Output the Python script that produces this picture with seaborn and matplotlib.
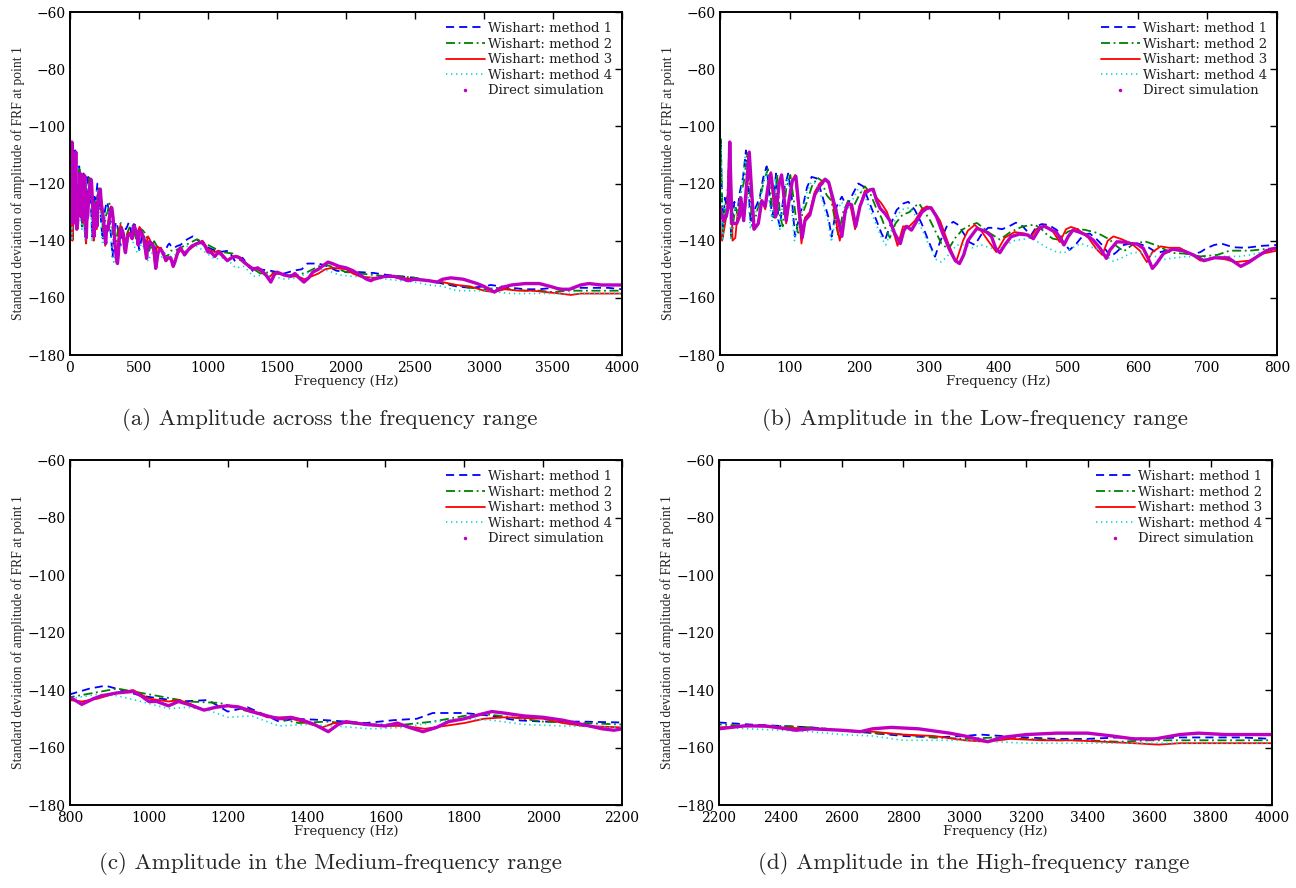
import matplotlib
matplotlib.use("Agg")
import matplotlib.pyplot as plt
import pandas as pd
import seaborn as sns
from matplotlib.lines import Line2D

# ---------------- data: (frequency in Hz, std of FRF amplitude in dB) ----------------
method1 = [(0,-135),(1,-104),(4,-138.6),(7,-125),(9.6,-128),(12,-118),(13.4,-106),(15.8,-139),(20.6,-126.4),(25,-130.5),(28,-123.5),(33,-118),(37.3,-108.4),(40.7,-121),(44,-134),(50,-129),(53.6,-127),(57.4,-124.5),(62,-118),(67,-114),(71.8,-125.8),(75.6,-131.6),(80.4,-116.5),(83.8,-132.8),(86,-135),(93,-121),(98,-116.5),(103,-124.7),(107.7,-138.6),(115,-130.5),(120,-127),(125,-121.3),(131.6,-117.7),(139,-118.2),(146,-123.5),(155.5,-131.6),(160.3,-138.6),(167.5,-128),(175,-124.6),(182,-128),(190,-124),(198.6,-120),(205.8,-121),(213,-125.8),(222.6,-131.6),(232,-137.5),(237,-139.8),(244,-135),(253.6,-129.3),(263.2,-127),(270.4,-126.4),(280,-129.3),(289.6,-134),(299,-139.8),(308.8,-145.6),(316,-140.4),(325.5,-135.1),(335,-133.4),(342.3,-134.5),(350,-137.5),(358,-140.5),(366,-141.5),(375,-138),(385,-135.5),(395,-135.5),(405,-136),(415,-135),(425,-133.7),(435,-135),(442,-137),(447,-138),(455,-135),(462,-134.2),(472,-134.5),(484,-136.3),(493,-140.4),(502,-143.3),(512,-141),(522,-138),(531,-137.5),(541,-139.5),(551,-142.1),(561,-145.6),(570,-143.9),(580,-141.5),(590,-141),(600,-141),(613,-142),(628,-144.3),(640,-143.5),(654,-143),(667,-144),(678,-144.9),(690,-144),(699,-142.6),(710,-141.5),(720,-141),(737,-142.3),(755,-142.5),(779,-141.8),(800,-141.5),
           (850,-139.5),(890,-138.5),(930,-140),(980,-142),(1030,-143),(1080,-144),(1150,-143.5),(1200,-147.5),(1250,-146),(1300,-149),(1330,-151),(1370,-150),(1450,-150.5),(1550,-151.5),(1620,-150.5),(1680,-150),(1720,-148),(1800,-148),(1870,-149),(1930,-150.5),(2000,-151),(2100,-151),(2200,-151.3),(2300,-152),(2400,-152.5),(2500,-153),(2600,-154),(2700,-155),(2800,-156),(2900,-156.5),(3000,-156),(3050,-155.5),(3120,-156),(3200,-156.5),(3300,-157),(3400,-157),(3500,-156.5),(3600,-157),(3700,-156.5),(3800,-156.5),(3900,-156.5),(4000,-157)]

method2 = [(0,-130),(1,-104.5),(4,-137),(8,-127),(11,-126),(13.8,-106.5),(16.5,-139),(22,-128),(26,-131),(29,-124),(34,-120),(39.5,-109),(43,-122),(46,-135),(52,-131),(57,-126),(63,-119),(69,-115),(74,-127),(78,-132),(82.5,-117),(86,-131),(90,-135),(95,-122),(101,-117),(106,-126),(112,-138),(118,-131),(124,-127),(132,-121),(140,-118),(146,-119),(153,-124),(160,-126),(166,-134),(170,-138),(177,-130),(184,-126),(192,-128),(200,-124),(208,-121),(215,-123),(225,-129),(232,-132),(238,-136),(244,-139),(252,-134),(262,-131),(272,-130),(280,-128),(286,-127),(294,-130),(302,-133),(310,-137),(318,-141),(328,-143),(338,-139),(349,-136),(360,-134.5),(369,-133.8),(378,-135.5),(387,-137.3),(402,-139.6),(417,-137),(435,-135),(452,-134.4),(462,-136),(470,-138),(478,-139.3),(485,-139.6),(500,-136.8),(512,-136),(524,-136.2),(542,-137.3),(559,-139.5),(570,-142),(580,-143.7),(592,-141.5),(610,-140.2),(631,-142),(648,-144.3),(666,-144.5),(690,-145.5),(714,-145),(732,-143.5),(761,-143.5),(800,-142.5),
           (860,-141),(920,-139.5),(980,-141),(1040,-142.5),(1100,-144),(1180,-144.5),(1240,-147),(1300,-149),(1380,-151.5),(1450,-151),(1550,-152),(1650,-152),(1720,-151),(1800,-149),(1860,-148.5),(1920,-149.5),(2000,-151),(2100,-151.5),(2200,-152),(2300,-152.5),(2400,-152.5),(2500,-153),(2600,-154),(2700,-155),(2800,-155.5),(2900,-156.5),(3000,-157),(3100,-156.5),(3200,-157),(3300,-157.5),(3400,-157.5),(3500,-158),(3600,-157.5),(3700,-157.5),(3800,-157.5),(3900,-157.5),(4000,-157.5)]

method3 = [(0,-133),(1,-137),(3,-140),(6,-136),(10,-130),(13,-112),(14.5,-106),(16,-120),(18,-140),(22,-139),(25,-131),(30,-127),(34,-133),(38,-125),(42,-110),(45,-122),(48,-136),(55,-134),(60,-126),(65,-129),(69,-122),(73,-116),(77,-127),(80,-132),(85,-121),(88,-117),(92,-126),(95,-134),(100,-125),(104,-119),(108,-117),(113,-130),(117,-141),(122,-132),(129,-130),(136,-123),(143,-120),(150,-118.5),(156,-120),(163,-128),(168,-135),(172,-140),(177,-133),(182,-128),(187,-127.3),(194,-136),(201,-128),(208,-122.5),(218,-122),(225,-125),(232,-127),(240,-130),(248,-136),(255,-141.8),(263,-135),(272,-135),(280,-133),(290,-129),(297,-128),(304,-128.5),(316,-133),(328,-141),(339,-147.5),(349,-140),(356,-136.5),(366,-134.5),(375,-136.5),(385,-140),(397,-144),(409,-139),(423,-137),(438,-137.5),(446,-139),(454,-136),(462,-135),(476,-136),(488,-140.5),(497,-136),(504,-135.2),(514,-136),(529,-139),(541,-143),(549,-145),(557,-140),(565,-138.5),(577,-139.5),(591,-141),(603,-143.5),(613,-147.5),(621,-144),(633,-142),(645,-142.5),(660,-142.5),(675,-144.5),(690,-147),(710,-146),(725,-146.5),(740,-147.5),(760,-147),(780,-144.5),(800,-143.5),
           (830,-144),(870,-143),(920,-141),(960,-140),(1000,-143),(1050,-144),(1075,-143.5),(1100,-144.5),(1140,-147),(1180,-145.5),(1220,-145.5),(1260,-147),(1300,-149.5),(1350,-149.5),(1400,-151.5),(1440,-153),(1470,-151.5),(1520,-151.5),(1600,-152.5),(1650,-152.5),(1700,-153.5),(1750,-152.5),(1800,-151.5),(1850,-150),(1900,-149.5),(2000,-150),(2050,-151.5),(2100,-152.5),(2200,-153),(2300,-152.5),(2400,-153),(2500,-153.5),(2600,-154),(2700,-154.5),(2800,-155.5),(2900,-156),(3000,-157.5),(3070,-158),(3150,-157),(3250,-157.5),(3350,-157.5),(3450,-158),(3550,-158.5),(3630,-159),(3700,-158.5),(3800,-158.5),(3900,-158.5),(4000,-158.5)]

method4 = [(0,-138),(1,-106),(4,-140),(7,-128),(10,-129),(13,-108),(15.5,-140),(20,-128),(25,-132),(28,-126),(32,-120),(36.5,-110),(40,-123),(43.5,-136),(50,-131),(57,-126),(62,-120),(66.5,-116),(71,-127),(75,-133),(79.5,-118),(83,-133),(86,-136),(92,-123),(97,-118),(102,-126),(107,-140),(114,-132),(120,-128),(125,-123),(131,-119.5),(138,-120),(146,-125),(155,-133),(160,-140.5),(167,-130),(175,-126.5),(182,-130),(190,-126),(198,-122),(206,-123),(213,-127.5),(222,-133),(232,-139),(238,-141.5),(245,-137),(254,-131),(263,-129),(272,-128.5),(280,-131),(290,-136),(300,-141.5),(310,-146.5),(318,-147.5),(328,-145),(340,-141.5),(351,-141.4),(363,-142.5),(375,-141.5),(388,-142.5),(399,-143),(410,-141.5),(423,-140),(435,-139.5),(447,-139),(460,-141),(470,-142.5),(482,-143.8),(494,-144.3),(506,-142.5),(518,-141),(530,-142),(542,-143),(553,-145),(565,-147.2),(577,-146),(589,-144.5),(601,-144),(613,-144.5),(625,-145.5),(637,-146.6),(655,-146),(672,-145.5),(687,-146),(702,-146),(717,-145.5),(732,-145.5),(746,-145.5),(761,-145),(780,-144),(800,-143),
           (870,-141.5),(920,-142),(980,-144),(1050,-146.5),(1100,-146),(1150,-147),(1200,-149.5),(1260,-149),(1330,-152.5),(1400,-152),(1470,-152.5),(1560,-153.5),(1650,-153),(1730,-151),(1800,-150),(1870,-150.5),(1950,-152),(2050,-152.5),(2200,-153),(2300,-153.5),(2400,-154),(2500,-154.5),(2600,-155.5),(2700,-156),(2800,-157.5),(2900,-157.5),(3000,-157.5),(3100,-158),(3200,-158.5),(3300,-158.5),(3400,-158.5),(3500,-158.5),(3600,-158.5),(3700,-158.5),(3800,-158.5),(3900,-158.5),(4000,-158.5)]

direct_sim = [(0,-128),(1,-130),(5,-133),(9,-131.5),(12,-128),(14,-105.5),(17,-134),(20,-134),(24,-134),(28,-131.5),(30,-125),(34,-133),(38,-121),(42,-109),(45,-121),(49,-136),(55,-134),(60,-126),(65,-128),(69,-121),(73,-116.5),(78,-126),(80,-131.5),(85,-120),(88.5,-117),(92,-125),(95,-133),(100,-124.5),(104,-119),(109,-117.5),(114,-130),(118,-139),(122,-133),(129,-131),(136,-124),(143,-121),(151,-118.5),(156,-119.5),(163,-126),(170,-133),(175,-138.5),(180,-129.5),(184,-127),(189,-127.5),(195,-135),(201,-128),(208,-123.5),(215,-122.3),(220,-122),(225,-126),(230,-128.7),(237,-130.5),(244,-133),(251,-137.5),(259,-141),(264,-136.5),(268,-135),(275,-136.3),(282,-133.4),(290,-130),(297,-128.7),(303,-128.5),(311,-131.6),(320,-137.5),(330,-143.3),(338,-147),(344,-148),(350,-145),(356,-140),(362,-138),(369,-135.7),(376,-136.3),(383,-137),(390,-138.6),(396,-142.7),(402,-144.2),(409,-141.5),(418,-138.6),(430,-137.7),(442,-138),(450,-139.3),(459,-135.7),(466,-134.9),(476,-136.3),(483,-137),(490,-139.8),(494,-141.5),(500,-138.6),(507,-136.3),(516,-137),(526,-138),(536,-139.8),(546,-142.7),(555,-146.2),(560,-143.3),(570,-140.4),(580,-140.5),(590,-141),(599,-141.2),(608,-142.7),(615,-146.2),(621,-149.7),(627,-148),(637,-144.5),(650,-143),(665,-143.5),(680,-145),(695,-147),(710,-146),(730,-146),(748,-149),(760,-147.5),(772,-145.5),(785,-143.5),(800,-142.5),
              (830,-145),(860,-143),(880,-142),(920,-141),(960,-140.5),(980,-142),(1000,-144),(1020,-144),(1050,-145.5),(1075,-144),(1100,-145),(1140,-147),(1170,-146),(1200,-145.5),(1230,-146),(1260,-147.5),(1300,-149),(1330,-150),(1360,-149.5),(1390,-150.5),(1420,-152),(1455,-154.5),(1480,-152),(1500,-151),(1550,-152),(1600,-152.5),(1630,-151.5),(1660,-153),(1695,-154.5),(1730,-153),(1760,-151),(1800,-150),(1840,-148.5),(1870,-147.5),(1900,-148),(1950,-149),(2000,-149.5),(2050,-150.5),(2100,-152),(2150,-153.5),(2180,-154),(2200,-153.5),(2280,-152.5),(2350,-152.5),(2420,-153.5),(2450,-154),(2500,-153.5),(2600,-154),(2660,-154.5),(2700,-153.5),(2760,-153),(2850,-153.5),(2950,-155),(3000,-156),(3075,-158),(3120,-156.5),(3200,-155.5),(3300,-155),(3400,-155),(3480,-156),(3550,-157),(3620,-157),(3700,-155.5),(3760,-155),(3850,-155.5),(3950,-155.5),(4000,-155.5)]

series_labels = ["Wishart: method 1", "Wishart: method 2", "Wishart: method 3",
                 "Wishart: method 4", "Direct simulation"]
series_data = [method1, method2, method3, method4, direct_sim]

panel_xlims = [(0, 4000), (0, 800), (800, 2200), (2200, 4000)]
panel_xsteps = [500, 100, 200, 200]
panel_captions = ["(a) Amplitude across the frequency range",
                  "(b) Amplitude in the Low-frequency range",
                  "(c) Amplitude in the Medium-frequency range",
                  "(d) Amplitude in the High-frequency range"]
y_ticks = [-180, -160, -140, -120, -100, -80, -60]
x_label = "Frequency (Hz)"
y_label = "Standard deviation of amplitude of FRF at point 1"

# ---------------- styling ----------------
sns.set_theme(style="white")
plt.rcParams['font.family'] = ['DejaVu Serif']
plt.rcParams['axes.unicode_minus'] = True

colors = ["#0000ff", "#008000", "#ff0000", "#00d8d8", "#c000c0"]
widths = [1.3, 1.3, 1.3, 1.2, 2.4]
lstyles = [(0, (4.5, 2.8)), (0, (5, 2, 1, 2)), "-", (0, (0.8, 2.2)), "-"]

W, H = 1296, 888
fig = plt.figure(figsize=(W / 100, H / 100), dpi=100)

# axes boxes in pixels: left, right, top, bottom
boxes = [(70, 622, 12, 355), (720, 1277, 12, 355),
         (70, 622, 460, 805), (719, 1272, 460, 805)]
caption_pos = [(330, 419), (975, 419), (330, 863), (974, 863)]

for i, (l, r, t, b) in enumerate(boxes):
    ax = fig.add_axes([l / W, 1 - b / H, (r - l) / W, (b - t) / H])
    for lab, pts, c, lw, ls in zip(series_labels, series_data, colors, widths, lstyles):
        df = pd.DataFrame(pts, columns=["freq", "amp"])
        sns.lineplot(data=df, x="freq", y="amp", ax=ax, color=c, lw=lw,
                     sort=False, estimator=None, legend=False)
        ax.lines[-1].set_linestyle(ls)
    x0, x1 = panel_xlims[i]
    ax.set_xlim(x0, x1)
    ax.set_ylim(-180, -60)
    ax.set_xticks(list(range(x0, x1 + 1, panel_xsteps[i])))
    ax.set_yticks(y_ticks)
    ax.tick_params(direction="in", top=True, right=True, length=5, width=1,
                   labelsize=10, colors="black")
    ax.tick_params(axis="x", pad=4)
    ax.tick_params(axis="y", pad=3)
    for sp in ax.spines.values():
        sp.set_visible(True)
        sp.set_color("black")
        sp.set_linewidth(1.4)
    ax.set_xlabel(x_label, fontsize=9.5, labelpad=0)
    ax.set_ylabel(y_label, fontsize=9.8, labelpad=2, family="Liberation Serif")
    handles = []
    for lab, c, lw, ls in zip(series_labels, colors, widths, lstyles):
        if lab == "Direct simulation":
            handles.append(Line2D([], [], color=c, marker=".", markersize=3, linestyle="none"))
        else:
            handles.append(Line2D([], [], color=c, lw=lw, linestyle=ls))
    leg = ax.legend(handles, series_labels, loc="upper right", bbox_to_anchor=(1.0, 1.0),
                    frameon=False, fontsize=9.5, handlelength=2.9, handletextpad=0.25,
                    labelspacing=0.2, borderaxespad=0.35)
    for txt in leg.get_texts():
        txt.set_color("#222222")
    cx, cy = caption_pos[i]
    fig.text(cx / W, 1 - cy / H, panel_captions[i], ha="center", va="center",
             fontsize=16.5, family="cmr10")

fig.savefig("out.png", dpi=100)
